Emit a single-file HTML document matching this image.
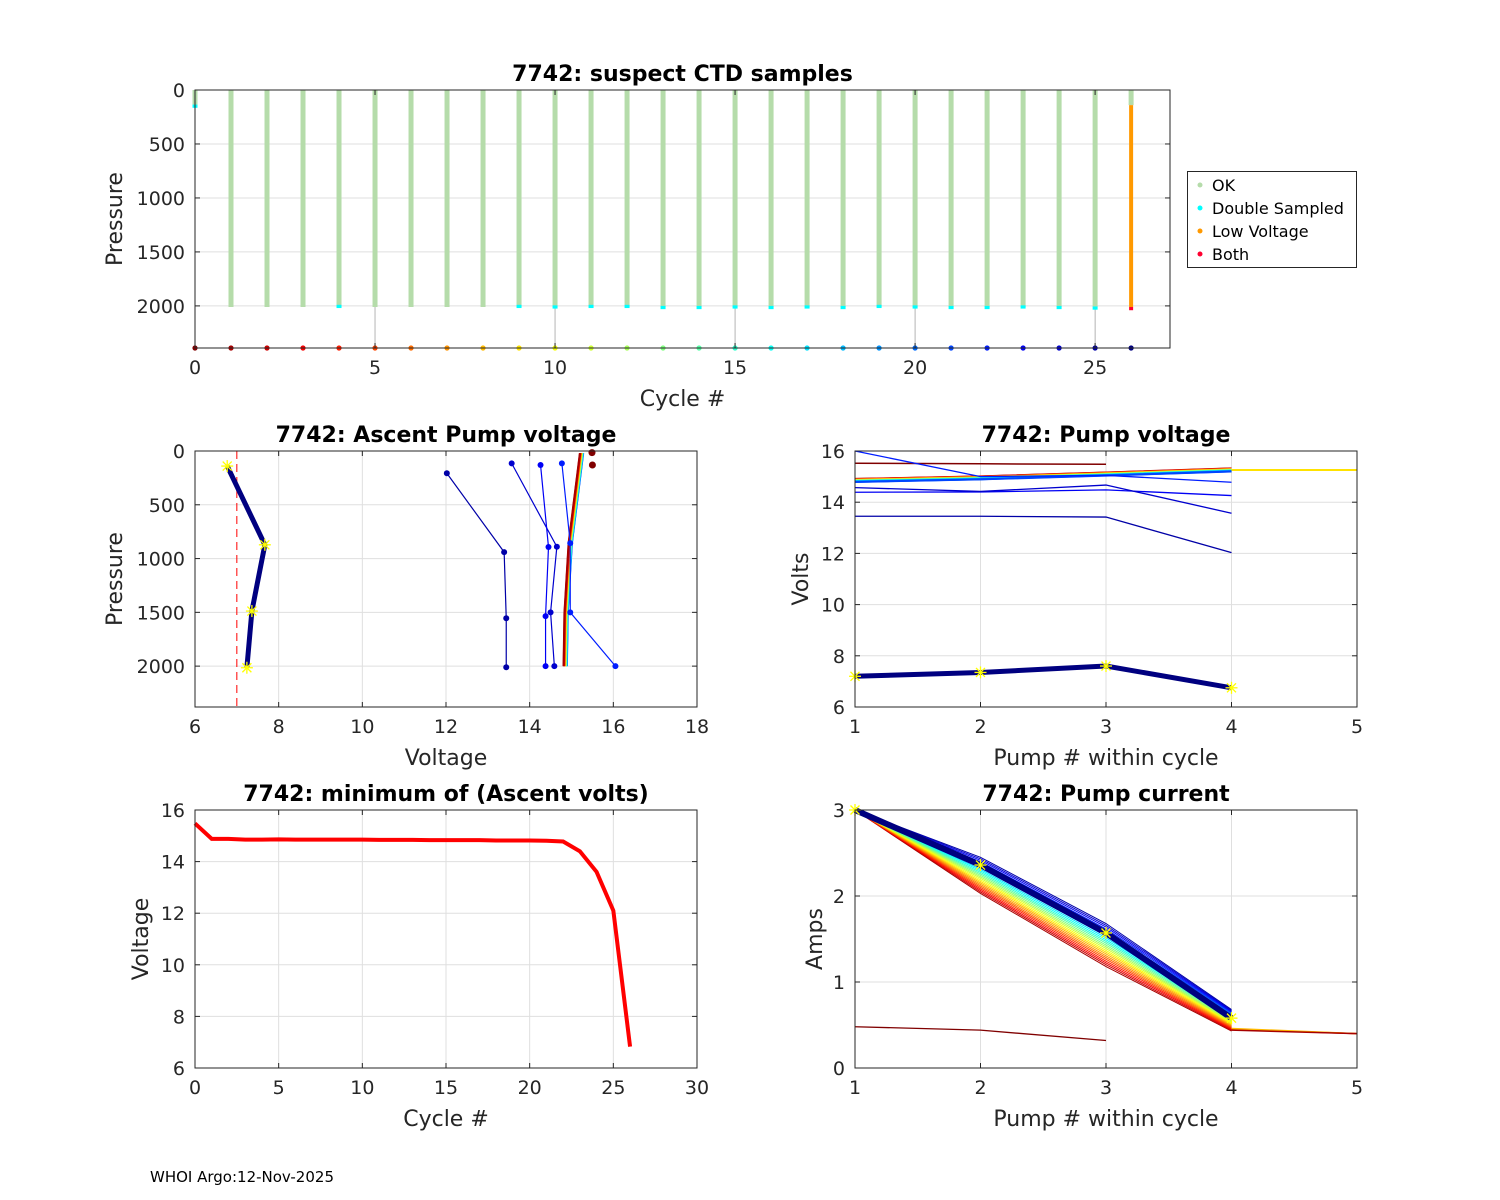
<!DOCTYPE html>
<html><head><meta charset="utf-8"><style>
html,body{margin:0;padding:0;background:#fff;}
svg{display:block;font-family:"DejaVu Sans","Liberation Sans",sans-serif;}
</style></head><body>
<svg id="fig" width="1500" height="1200" viewBox="0 0 1500 1200" xmlns="http://www.w3.org/2000/svg">
<rect width="1500" height="1200" fill="#fff"/>
<text x="150" y="1182" font-size="15" fill="#000">WHOI Argo:12-Nov-2025</text>
<g id="legend">
<rect x="1187.5" y="171.5" width="169" height="96" fill="#fff" stroke="#262626" stroke-width="1"/>
<g><circle cx="1200" cy="185" r="2.5" fill="#b5dcaa"/><text x="1212" y="191" font-size="16" fill="#000">OK</text></g>
<g><circle cx="1200" cy="208" r="2.5" fill="#00ffff"/><text x="1212" y="214" font-size="16" fill="#000">Double Sampled</text></g>
<g><circle cx="1200" cy="231" r="2.5" fill="#ff9900"/><text x="1212" y="237" font-size="16" fill="#000">Low Voltage</text></g>
<g><circle cx="1200" cy="254" r="2.5" fill="#ff0030"/><text x="1212" y="260" font-size="16" fill="#000">Both</text></g>
</g>
</svg>
<script>
// ---------- data ----------
const cycles = [0,1,2,3,4,5,6,7,8,9,10,11,12,13,14,15,16,17,18,19,20,21,22,23,24,25,26];
const profileMaxPres = [160,2010,2010,2010,2010,2010,2010,2010,2010,2010,2010,2010,2010,2010,2010,2010,2010,2010,2010,2010,2010,2010,2010,2010,2010,2010,2020];
const doubleSampledCycles = [0,4,9,10,11,12,13,14,15,16,17,18,19,20,21,22,23,24,25];
const doubleSampledPres = [150,2005,2005,2010,2005,2005,2015,2015,2010,2015,2010,2015,2005,2010,2015,2015,2010,2015,2020];
const lowVoltageCycles = [26];
const lowVoltageStartPres = [140];
const bothCycles = [26];
const bothPres = [2025];
const minAscentVolts = [15.48,14.88,14.88,14.85,14.85,14.86,14.85,14.85,14.85,14.85,14.85,14.84,14.84,14.84,14.83,14.83,14.83,14.83,14.82,14.82,14.82,14.81,14.78,14.4,13.6,12.1,6.83];

const ascBundleV = [15.24,15.19,14.97,14.87,14.85];
const ascBundleP = [20,177,857,1510,2000];
const ascC26V = [6.77,7.67,7.36,7.24];
const ascC26P = [140,872,1488,2015];
const ascC25V = [12.02,13.39,13.44,13.44];
const ascC25P = [207,940,1555,2010];
const ascC24V = [13.57,14.65,14.5,14.59];
const ascC24P = [115,890,1500,2000];
const ascC23V = [14.26,14.45,14.38,14.38];
const ascC23P = [130,893,1535,2000];
const ascC22V = [14.77,14.97,14.97,16.05];
const ascC22P = [115,857,1500,2000];
const ascC0V = [15.49,15.5];
const ascC0P = [15,130];

const pumpNum = [1,2,3,4,5];
const pvC26 = [7.2,7.35,7.6,6.75];
const pvC25 = [13.45,13.45,13.42,12.03];
const pvC24 = [14.57,14.42,14.67,13.57];
const pvC23 = [14.39,14.4,14.48,14.26];
const pvC22 = [16.0,15.0,15.05,14.78];
const pvC0 = [15.52,15.5,15.48];
const pvBundleStart = [14.85,14.95,15.1,15.26];
const pvLast = 15.26;

const pcNavy = [3.0,2.36,1.57,0.58];
const pcTop = [3.0,2.45,1.68,0.68];
const pcRed = [3.0,2.03,1.18,0.43];
const pcTail = [0.45,0.40];
const pcC0 = [0.48,0.44,0.32];

// ---------- helpers ----------
const svg = document.getElementById('fig');
const NS = 'http://www.w3.org/2000/svg';
function el(tag, attrs, parent){const e=document.createElementNS(NS,tag);for(const k in attrs)e.setAttribute(k,attrs[k]);(parent||svg).appendChild(e);return e;}
function jet(i){const t=1-i/26;const c=v=>Math.round(255*Math.max(0,Math.min(1,v)));
  return `rgb(${c(1.5-Math.abs(4*t-3))},${c(1.5-Math.abs(4*t-2))},${c(1.5-Math.abs(4*t-1))})`;}

function makeAxes(o){
  const g=el('g',{});
  
  
  const sx=v=>o.x0+(v-o.xmin)/(o.xmax-o.xmin)*(o.x1-o.x0);
  const sy=o.rev? v=>o.y0+(v-o.ymin)/(o.ymax-o.ymin)*(o.y1-o.y0) : v=>o.y1-(v-o.ymin)/(o.ymax-o.ymin)*(o.y1-o.y0);
  el('rect',{x:o.x0,y:o.y0,width:o.x1-o.x0,height:o.y1-o.y0,fill:'#fff'},g);
  const grid=el('g',{stroke:'#dfdfdf','stroke-width':1},g);
  o.xt.forEach(v=>{const x=sx(v);el('line',{x1:x,x2:x,y1:o.y0,y2:o.y1},grid);});
  o.yt.forEach(v=>{const y=sy(v);el('line',{x1:o.x0,x2:o.x1,y1:y,y2:y},grid);});
  const plot=el('g',{},g);
  const frame=el('g',{},g);
  el('rect',{x:o.x0,y:o.y0,width:o.x1-o.x0,height:o.y1-o.y0,fill:'none',stroke:'#262626','stroke-width':1},frame);
  o.xt.forEach(v=>{const x=sx(v);
    el('line',{x1:x,x2:x,y1:o.y1,y2:o.y1-5,stroke:'#262626'},frame);
    el('line',{x1:x,x2:x,y1:o.y0,y2:o.y0+5,stroke:'#262626'},frame);
    const t=el('text',{x:x,y:o.y1+26,'font-size':19,'text-anchor':'middle',fill:'#262626'},frame);t.textContent=v;
    
    
  });
  o.yt.forEach(v=>{const y=sy(v);
    el('line',{x1:o.x0,x2:o.x0+5,y1:y,y2:y,stroke:'#262626'},frame);
    el('line',{x1:o.x1,x2:o.x1-5,y1:y,y2:y,stroke:'#262626'},frame);
    const t=el('text',{x:o.x0-10,y:y+7,'font-size':19,'text-anchor':'end',fill:'#262626'},frame);t.textContent=v;
    
    
  });
  const tt=el('text',{x:(o.x0+o.x1)/2,y:o.y0-9,'font-size':22,'font-weight':'bold','text-anchor':'middle',fill:'#000'},g);tt.textContent=o.title;
  
  
  const xl=el('text',{x:(o.x0+o.x1)/2,y:o.y1+58,'font-size':22,'text-anchor':'middle',fill:'#262626'},g);xl.textContent=o.xlabel;
  
  
  const yx=o.ylx, yy=(o.y0+o.y1)/2;
  const yl=el('text',{x:yx,y:yy,'font-size':22,'text-anchor':'middle',fill:'#262626',transform:`rotate(-90 ${yx} ${yy})`},g);yl.textContent=o.ylabel;
  
  
  svg.insertBefore(g, document.getElementById('legend'));
  return {sx,sy,plot};
}
function poly(a,xs,ys,attrs,name){
  const pts=xs.map((v,i)=>a.sx(v)+','+a.sy(ys[i])).join(' ');
  const p=el('polyline',Object.assign({points:pts,fill:'none'},attrs),a.plot);
  
  
  return p;
}
function dots(a,xs,ys,r,fill,name){xs.forEach((v,i)=>{const c=el('circle',{cx:a.sx(v),cy:a.sy(ys[i]),r:r,fill:fill},a.plot);
  
  });}
function star(a,x,y,name){const cx=a.sx(x),cy=a.sy(y);const s=el('g',{stroke:'#ffff00','stroke-width':1.3},a.plot);
  
  
  [[-6,0,6,0],[0,-6,0,6],[-4.5,-4.5,4.5,4.5],[-4.5,4.5,4.5,-4.5]].forEach(d=>el('line',{x1:cx+d[0],y1:cy+d[1],x2:cx+d[2],y2:cy+d[3]},s));}

// ---------- panel 1 ----------
const a1=makeAxes({name:'suspect-ctd-samples-chart',x0:195,x1:1170,y0:90,y1:348,xmin:0,xmax:27.08,ymin:0,ymax:2390,rev:true,
  xt:[0,5,10,15,20,25],yt:[0,500,1000,1500,2000],title:'7742: suspect CTD samples',xlabel:'Cycle #',ylabel:'Pressure',ylx:122});
[5,10,15,20,25].forEach(c=>poly(a1,[c,c],[2010,2390],{stroke:'#999','stroke-width':0.6},'trace-line'));
cycles.forEach((c,i)=>{
  const end = lowVoltageCycles.includes(c)? lowVoltageStartPres[lowVoltageCycles.indexOf(c)] : profileMaxPres[i];
  poly(a1,[c,c],[0,end],{stroke:'#b5dcaa','stroke-width':5},'ok-samples-bar');
});
lowVoltageCycles.forEach((c,i)=>poly(a1,[c,c],[lowVoltageStartPres[i],2010],{stroke:'#ff9900','stroke-width':4},'low-voltage-bar'));
doubleSampledCycles.forEach((c,i)=>poly(a1,[c,c],[doubleSampledPres[i]-15,doubleSampledPres[i]+15],{stroke:'#00ffff','stroke-width':5},'double-sampled-mark'));
bothCycles.forEach((c,i)=>poly(a1,[c,c],[bothPres[i]-15,bothPres[i]+15],{stroke:'#ff0030','stroke-width':4},'both-mark'));
cycles.forEach((c,i)=>dots(a1,[c],[2390],2.6,jet(i),'cycle-dot'));

// ---------- panel 2 ----------
const a2=makeAxes({name:'ascent-pump-voltage-chart',x0:195,x1:697,y0:451,y1:707,xmin:6,xmax:18,ymin:0,ymax:2380,rev:true,
  xt:[6,8,10,12,14,16,18],yt:[0,500,1000,1500,2000],title:'7742: Ascent Pump voltage',xlabel:'Voltage',ylabel:'Pressure',ylx:122});
poly(a2,[7,7],[0,2380],{stroke:'#ff0000','stroke-width':1,'stroke-dasharray':'8,5'},'min-voltage-threshold');
for(let i=21;i>=1;i--){
  const off=(i-11)*0.004;
  poly(a2,ascBundleV.map(v=>v+off),ascBundleP,{stroke:jet(i),'stroke-width':2},'ascent-profile-cycle-'+i);
}
[[ascC25V,ascC25P,25],[ascC24V,ascC24P,24],[ascC23V,ascC23P,23],[ascC22V,ascC22P,22]].forEach(d=>{
  poly(a2,d[0],d[1],{stroke:jet(d[2]),'stroke-width':1.2},'ascent-profile-cycle-'+d[2]);
  dots(a2,d[0],d[1],3,jet(d[2]),'ascent-sample');
});
poly(a2,ascC26V,ascC26P,{stroke:jet(26),'stroke-width':5},'ascent-profile-cycle-26');
ascC26V.forEach((v,i)=>star(a2,v,ascC26P[i],'low-voltage-star'));
dots(a2,ascC0V,ascC0P,3.5,jet(0),'ascent-sample-cycle-0');

// ---------- panel 3 ----------
const a3=makeAxes({name:'pump-voltage-chart',x0:855,x1:1357,y0:451,y1:707,xmin:1,xmax:5,ymin:6,ymax:16,rev:false,
  xt:[1,2,3,4,5],yt:[6,8,10,12,14,16],title:'7742: Pump voltage',xlabel:'Pump # within cycle',ylabel:'Volts',ylx:808});
poly(a3,pumpNum.slice(0,3),pvC0,{stroke:jet(0),'stroke-width':1.5},'pump-voltage-cycle-0');
for(let i=1;i<=21;i++){
  const off=(11-i)*0.006;
  const ys=pvBundleStart.map(v=>v+off);
  poly(a3,pumpNum.slice(0,4),ys,{stroke:jet(i),'stroke-width':2},'pump-voltage-cycle-'+i);
}
poly(a3,[4,5],[pvLast,pvLast],{stroke:jet(9),'stroke-width':2},'pump-voltage-tail');
[[pvC22,22],[pvC23,23],[pvC24,24],[pvC25,25]].forEach(d=>poly(a3,pumpNum.slice(0,4),d[0],{stroke:jet(d[1]),'stroke-width':1.3},'pump-voltage-cycle-'+d[1]));
poly(a3,pumpNum.slice(0,4),pvC26,{stroke:jet(26),'stroke-width':5},'pump-voltage-cycle-26');
pvC26.forEach((v,i)=>star(a3,pumpNum[i],v,'low-voltage-star'));

// ---------- panel 4 ----------
const a4=makeAxes({name:'minimum-ascent-volts-chart',x0:195,x1:697,y0:810,y1:1068,xmin:0,xmax:30,ymin:6,ymax:16,rev:false,
  xt:[0,5,10,15,20,25,30],yt:[6,8,10,12,14,16],title:'7742: minimum of (Ascent volts)',xlabel:'Cycle #',ylabel:'Voltage',ylx:148});
poly(a4,cycles,minAscentVolts,{stroke:'#ff0000','stroke-width':4},'min-volts-line');

// ---------- panel 5 ----------
const a5=makeAxes({name:'pump-current-chart',x0:855,x1:1357,y0:810,y1:1068,xmin:1,xmax:5,ymin:0,ymax:3,rev:false,
  xt:[1,2,3,4,5],yt:[0,1,2,3],title:'7742: Pump current',xlabel:'Pump # within cycle',ylabel:'Amps',ylx:822});
poly(a5,pumpNum.slice(0,3),pcC0,{stroke:jet(0),'stroke-width':1.3},'pump-current-cycle-0');
for(let i=1;i<=25;i++){
  const f=(i-1)/24;
  const ys=pcRed.map((v,k)=>v+(pcTop[k]-v)*f);
  poly(a5,pumpNum.slice(0,4),ys,{stroke:jet(i),'stroke-width':1},'pump-current-cycle-'+i);
}
[[3,pcTail[0]],[8,pcTail[0]+0.01],[1,pcTail[0]-0.01]].forEach((d,k)=>poly(a5,[4,5],[d[1],pcTail[1]],{stroke:jet(d[0]),'stroke-width':1.5},'pump-current-tail'));
poly(a5,pumpNum.slice(0,4),pcNavy,{stroke:jet(26),'stroke-width':6},'pump-current-cycle-26');
pcNavy.forEach((v,i)=>star(a5,pumpNum[i],v,'low-voltage-star'));
</script>
</body></html>
